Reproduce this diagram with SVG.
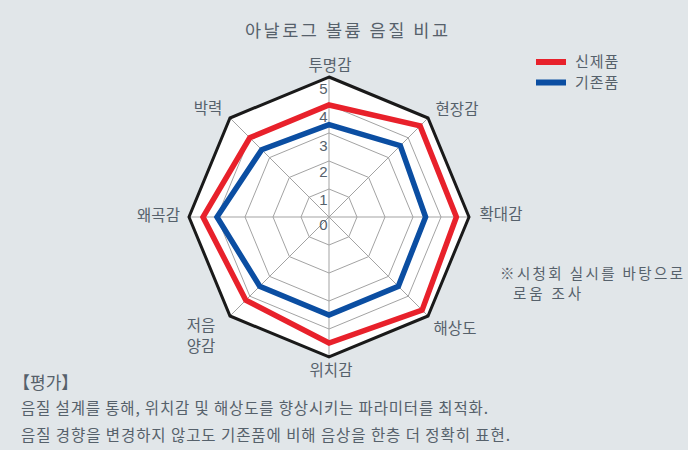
<svg xmlns="http://www.w3.org/2000/svg" width="688" height="450" viewBox="0 0 688 450">
<style>
.t{font-family:"Noto Sans CJK KR","Liberation Sans",sans-serif;fill:#56616b;}
.n{font-family:"Liberation Sans","DejaVu Sans",sans-serif;fill:#56616b;font-size:15px;text-anchor:middle;}
.grid{fill:none;stroke:#a3a3a3;stroke-width:1;}
.lab{font-size:15.5px;text-anchor:middle;}
</style>
<rect x="0" y="0" width="688" height="450" fill="#e1e6e9"/>
<text class="t" x="245" y="37" font-size="17.5" textLength="203" lengthAdjust="spacing">아날로그 볼륨 음질 비교</text>
<g id="chart">
<polygon points="329,77 428,118 469,217 428,316 329,357 230,316 189,217 230,118" fill="#ffffff"/>
<g id="grid" class="grid">
<polygon points="329,105 408.2,137.8 441,217 408.2,296.2 329,329 249.8,296.2 217,217 249.8,137.8"/>
<polygon points="329,133 388.4,157.6 413,217 388.4,276.4 329,301 269.6,276.4 245,217 269.6,157.6"/>
<polygon points="329,161 368.6,177.4 385,217 368.6,256.6 329,273 289.4,256.6 273,217 289.4,177.4"/>
<polygon points="329,189 348.8,197.2 357,217 348.8,236.8 329,245 309.2,236.8 301,217 309.2,197.2"/>
<path d="M329,217L329,77M329,217L428,118M329,217L469,217M329,217L428,316M329,217L329,357M329,217L230,316M329,217L189,217M329,217L230,118"/>
</g>
<polygon points="329,77 428,118 469,217 428,316 329,357 230,316 189,217 230,118" fill="none" stroke="#1a1a1a" stroke-width="3"/>
<g id="scale">
<text class="n" x="323.5" y="94">5</text>
<text class="n" x="323.5" y="122">4</text>
<text class="n" x="323.5" y="151">3</text>
<text class="n" x="323.5" y="177">2</text>
<text class="n" x="323.5" y="205">1</text>
<text class="n" x="323.5" y="230">0</text>
</g>
<polygon id="series-old" points="329,124.6 400.3,145.7 425.6,217 398.3,286.3 329,315 259.7,286.3 217,217 261.7,149.7" fill="none" stroke="#0b4ea2" stroke-width="5.5" stroke-linejoin="miter"/>
<polygon id="series-new" points="329,105 420.1,125.9 456.4,217 422.1,310.1 329,343 245.8,300.2 203,217 249.8,137.8" fill="none" stroke="#e8212b" stroke-width="5.5" stroke-linejoin="miter"/>
</g>
<g id="axis-labels" class="t">
<text class="lab" x="330" y="71">투명감</text>
<text class="lab" x="457" y="115">현장감</text>
<text class="lab" x="501" y="220">확대감</text>
<text class="lab" x="455" y="334">해상도</text>
<text class="lab" x="331" y="376">위치감</text>
<text class="lab" x="201" y="331">저음</text>
<text class="lab" x="201" y="352">양감</text>
<text class="lab" x="158.5" y="221">왜곡감</text>
<text class="lab" x="208" y="114">박력</text>
</g>
<g id="legend">
<rect x="536" y="59" width="30" height="6" fill="#e8212b"/>
<rect x="536" y="79.5" width="30" height="6" fill="#0b4ea2"/>
<text class="t" x="575" y="67" font-size="15" letter-spacing="1">신제품</text>
<text class="t" x="575" y="88" font-size="15" letter-spacing="1">기존품</text>
</g>
<g id="note" class="t" font-size="14.5">
<text x="500" y="279" textLength="183" lengthAdjust="spacing">※시청회 실시를 바탕으로</text>
<text x="513" y="299" textLength="68" lengthAdjust="spacing">로움 조사</text>
</g>
<g id="evaluation" class="t">
<text x="13" y="389" font-size="17">【평가】</text>
<text x="21" y="414" font-size="15.5" textLength="467" lengthAdjust="spacing">음질 설계를 통해, 위치감 및 해상도를 향상시키는 파라미터를 최적화.</text>
<text x="21" y="441" font-size="15.5" textLength="489" lengthAdjust="spacing">음질 경향을 변경하지 않고도 기존품에 비해 음상을 한층 더 정확히 표현.</text>
</g>
</svg>
